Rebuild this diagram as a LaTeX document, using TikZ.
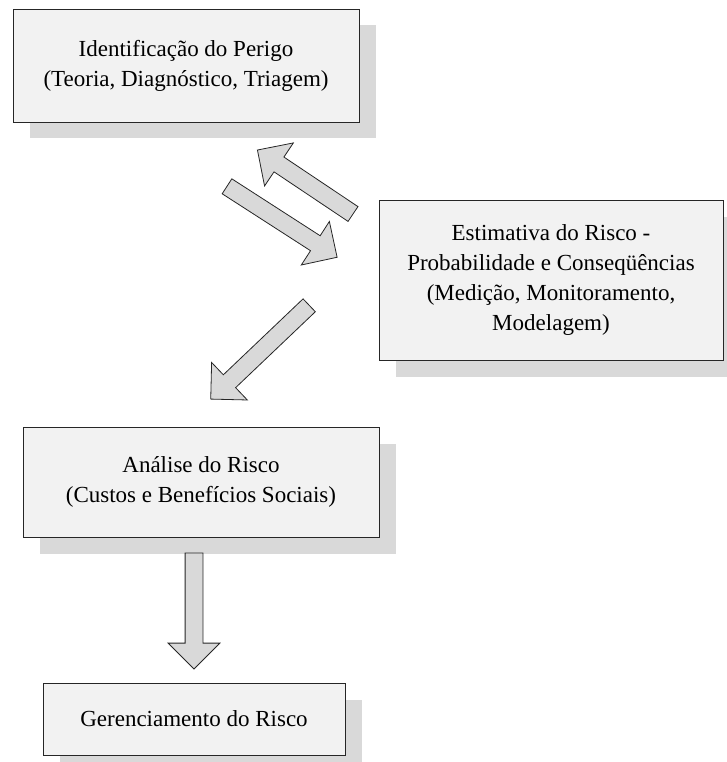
\documentclass[tikz,border=0pt]{standalone}
\usepackage{fontspec}
\setmainfont{Liberation Serif}
\usetikzlibrary{shapes.arrows,shadows}

\definecolor{boxgray}{HTML}{F2F2F2}
\definecolor{shadegray}{HTML}{D9D9D9}

\tikzset{
  riskbox/.style={draw=black!85, line width=0.8pt, fill=boxgray, align=center,
    inner sep=0pt, font=\fontsize{23}{30}\selectfont,
    drop shadow={shadow xshift=16.5pt, shadow yshift=-16.5pt, fill=shadegray, opacity=1}},
  bigarrow/.style={single arrow, draw=black!85, line width=0.8pt, fill=shadegray,
    inner xsep=0pt, inner ysep=8.5pt, outer sep=0pt,
    single arrow head extend=17pt, anchor=tail}
}

\begin{document}
\begin{tikzpicture}[x=1pt, y=-1pt]
  \useasboundingbox (0,0) rectangle (726,762);

  % caixas
  \node[riskbox, minimum width=346pt, minimum height=113pt] (perigo) at (186,65.5)
    {Identificação do Perigo\\(Teoria, Diagnóstico, Triagem)};
  \node[riskbox, minimum width=344pt, minimum height=160pt] (estimativa) at (551,280)
    {Estimativa do Risco -\\Probabilidade e Conseqüências\\(Medição, Monitoramento,\\Modelagem)};
  \node[riskbox, minimum width=356pt, minimum height=110pt] (analise) at (201,482)
    {Análise do Risco\\(Custos e Benefícios Sociais)};
  \node[riskbox, minimum width=302pt, minimum height=72pt] (gerencia) at (194,719)
    {Gerenciamento do Risco};

  % setas
  \node[bigarrow, rotate=146.2, minimum height=115pt] (volta) at (353,214) {};
  \node[bigarrow, rotate=-32.8, minimum height=131pt] (ida) at (227,186.3) {};
  \node[bigarrow, rotate=-136.4, minimum height=136pt] (desce) at (309.2,305.3) {};
  \node[bigarrow, rotate=-90, minimum height=116pt] (fim) at (194,553) {};
\end{tikzpicture}
\end{document}
